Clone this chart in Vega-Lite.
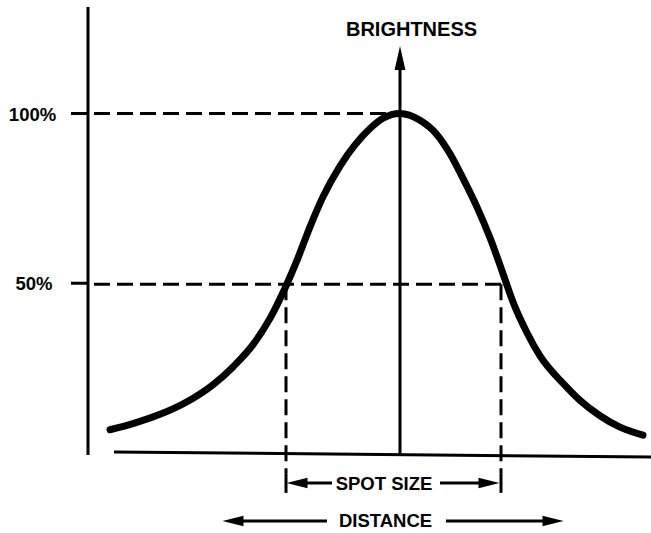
{
  "$schema": "https://vega.github.io/schema/vega-lite/v6.json",
  "width": 651,
  "height": 533,
  "padding": 0,
  "autosize": {"type": "none"},
  "background": "white",
  "config": {"view": {"stroke": null}},
  "datasets": {
    "curve": [
      {"x": -2.90, "y": 7.4}, {"x": -2.67, "y": 9.2}, {"x": -2.40, "y": 11.9}, {"x": -2.13, "y": 15.6},
      {"x": -1.87, "y": 20.6}, {"x": -1.67, "y": 25.8}, {"x": -1.47, "y": 32.3}, {"x": -1.30, "y": 40.0},
      {"x": -1.14, "y": 49.5}, {"x": -1.03, "y": 57.0}, {"x": -0.90, "y": 66.8}, {"x": -0.77, "y": 75.6},
      {"x": -0.60, "y": 84.6}, {"x": -0.45, "y": 90.8}, {"x": -0.30, "y": 95.6}, {"x": -0.17, "y": 98.6},
      {"x": 0.0, "y": 100.0}, {"x": 0.20, "y": 98.0}, {"x": 0.37, "y": 93.8}, {"x": 0.50, "y": 88.2},
      {"x": 0.63, "y": 81.0}, {"x": 0.77, "y": 72.6}, {"x": 0.90, "y": 63.6}, {"x": 1.00, "y": 55.6},
      {"x": 1.05, "y": 51.4}, {"x": 1.13, "y": 44.8}, {"x": 1.27, "y": 35.8}, {"x": 1.40, "y": 29.0},
      {"x": 1.65, "y": 20.4}, {"x": 1.80, "y": 16.0}, {"x": 2.00, "y": 11.5}, {"x": 2.19, "y": 8.3},
      {"x": 2.43, "y": 5.8}
    ],
    "solid": [
      {"part": "brightness axis", "x": -3.12, "x2": -3.12, "y": 0, "y2": 131.2},
      {"part": "distance axis", "x": -2.86, "x2": 2.51, "y": 0.88, "y2": -0.59},
      {"part": "centre line", "x": 0, "x2": 0, "y": 0, "y2": 115},
      {"part": "tick 100%", "x": -3.29, "x2": -3.12, "y": 100, "y2": 100},
      {"part": "tick 50%", "x": -3.29, "x2": -3.12, "y": 50.3, "y2": 50.3},
      {"part": "spot bracket left", "x": -1.14, "x2": -1.14, "y": -5.3, "y2": -11.1},
      {"part": "spot bracket right", "x": 1.01, "x2": 1.01, "y": -5.3, "y2": -11.1},
      {"part": "spot arrow left", "x": -1.06, "x2": -0.68, "y": -8.2, "y2": -8.2},
      {"part": "spot arrow right", "x": 0.40, "x2": 0.92, "y": -8.2, "y2": -8.2},
      {"part": "distance arrow left", "x": -1.70, "x2": -0.73, "y": -19.3, "y2": -19.3},
      {"part": "distance arrow right", "x": 0.46, "x2": 1.50, "y": -19.3, "y2": -19.3}
    ],
    "dashed": [
      {"part": "100% level", "x": -3.06, "x2": 0, "y": 100, "y2": 100},
      {"part": "50% level", "x": -3.06, "x2": 1.01, "y": 50, "y2": 50},
      {"part": "spot edge left", "x": -1.14, "x2": -1.14, "y": 50, "y2": -5.3},
      {"part": "spot edge right", "x": 1.01, "x2": 1.01, "y": 50, "y2": -5.3}
    ],
    "up": [{"x": 0, "y": 116.25}],
    "left": [{"x": -1.03, "y": -8.2}, {"x": -1.67, "y": -19.3}],
    "right": [{"x": 0.89, "y": -8.2}, {"x": 1.53, "y": -19.3}],
    "labels": [
      {"x": -3.675, "y": 97.8, "text": "100%"},
      {"x": -3.66, "y": 48.3, "text": "50%"},
      {"x": -0.16, "y": -10.25, "text": "SPOT SIZE"},
      {"x": -0.145, "y": -21.1, "text": "DISTANCE"}
    ],
    "title": [{"x": 0.115, "y": 122.7, "text": "BRIGHTNESS"}]
  },
  "encoding": {
    "x": {"field": "x", "type": "quantitative", "scale": {"domain": [-4, 2.51], "nice": false, "zero": false}, "axis": null},
    "y": {"field": "y", "type": "quantitative", "scale": {"domain": [-22.84, 133.24], "nice": false, "zero": false}, "axis": null}
  },
  "layer": [
    {
      "data": {"name": "dashed"},
      "mark": {"type": "rule", "color": "black", "strokeWidth": 3, "strokeDash": [16, 7]},
      "encoding": {"x2": {"field": "x2"}, "y2": {"field": "y2"}}
    },
    {
      "data": {"name": "solid"},
      "mark": {"type": "rule", "color": "black", "strokeWidth": 3},
      "encoding": {"x2": {"field": "x2"}, "y2": {"field": "y2"}}
    },
    {
      "data": {"name": "curve"},
      "mark": {"type": "line", "color": "black", "strokeWidth": 7, "strokeCap": "round", "interpolate": "monotone"},
      "encoding": {}
    },
    {
      "data": {"name": "up"},
      "mark": {"type": "point", "filled": true, "color": "black", "opacity": 1, "size": 576, "shape": "M0,-1L0.45,1L-0.45,1Z"},
      "encoding": {}
    },
    {
      "data": {"name": "left"},
      "mark": {"type": "point", "filled": true, "color": "black", "opacity": 1, "size": 441, "shape": "M-1,0L1,-0.5L1,0.5Z"},
      "encoding": {}
    },
    {
      "data": {"name": "right"},
      "mark": {"type": "point", "filled": true, "color": "black", "opacity": 1, "size": 441, "shape": "M1,0L-1,-0.5L-1,0.5Z"},
      "encoding": {}
    },
    {
      "data": {"name": "labels"},
      "mark": {"type": "text", "font": "Liberation Sans", "fontWeight": "bold", "fontSize": 18.5, "align": "center", "baseline": "alphabetic", "color": "black"},
      "encoding": {"text": {"field": "text"}}
    },
    {
      "data": {"name": "title"},
      "mark": {"type": "text", "font": "Liberation Sans", "fontWeight": "bold", "fontSize": 20, "align": "center", "baseline": "alphabetic", "color": "black"},
      "encoding": {"text": {"field": "text"}}
    }
  ]
}
